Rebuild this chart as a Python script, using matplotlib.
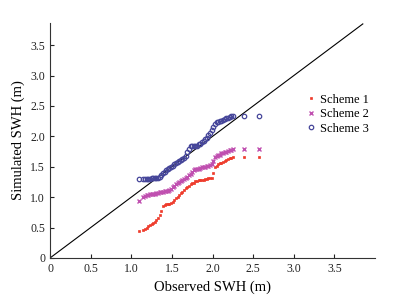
import matplotlib
matplotlib.use("Agg")
import matplotlib.pyplot as plt

plt.rcParams['font.family'] = ['Liberation Serif', 'DejaVu Serif']

obs = [1.10, 1.15, 1.17, 1.19, 1.21, 1.23, 1.25, 1.27, 1.29, 1.31, 1.33, 1.35, 1.37, 1.39,
       1.41, 1.43, 1.45, 1.47, 1.49, 1.51, 1.53, 1.55, 1.57, 1.59, 1.61, 1.63, 1.65, 1.67,
       1.69, 1.71, 1.73, 1.75, 1.77, 1.79, 1.81, 1.83, 1.85, 1.87, 1.89, 1.91, 1.93, 1.95,
       1.97, 1.99, 2.01, 2.03, 2.05, 2.07, 2.09, 2.11, 2.13, 2.15, 2.17, 2.19, 2.21, 2.23,
       2.25, 2.39, 2.57]

scheme1 = [0.45, 0.46, 0.48, 0.50, 0.52, 0.54, 0.56, 0.58, 0.60, 0.63, 0.66, 0.70, 0.78, 0.86,
           0.87, 0.88, 0.88, 0.89, 0.90, 0.92, 0.95, 0.98, 1.01, 1.04, 1.07, 1.09, 1.12, 1.15,
           1.17, 1.19, 1.21, 1.23, 1.24, 1.26, 1.27, 1.28, 1.28, 1.29, 1.29, 1.30, 1.30, 1.31,
           1.31, 1.32, 1.40, 1.49, 1.52, 1.54, 1.56, 1.57, 1.58, 1.60, 1.61, 1.63, 1.64, 1.65,
           1.66, 1.66, 1.66]

scheme2 = [0.94, 1.00, 1.02, 1.03, 1.04, 1.05, 1.05, 1.06, 1.06, 1.07, 1.07, 1.08, 1.08, 1.09,
           1.10, 1.10, 1.11, 1.12, 1.14, 1.16, 1.19, 1.21, 1.23, 1.25, 1.27, 1.28, 1.30, 1.32,
           1.34, 1.36, 1.38, 1.41, 1.44, 1.46, 1.46, 1.47, 1.48, 1.49, 1.49, 1.50, 1.51, 1.52,
           1.53, 1.54, 1.60, 1.66, 1.68, 1.69, 1.70, 1.72, 1.73, 1.74, 1.75, 1.76, 1.77, 1.78,
           1.79, 1.79, 1.79]

scheme3 = [1.30, 1.30, 1.30, 1.30, 1.30, 1.30, 1.31, 1.31, 1.31, 1.32, 1.32, 1.33, 1.37, 1.39,
           1.41, 1.44, 1.46, 1.48, 1.50, 1.52, 1.54, 1.56, 1.58, 1.60, 1.61, 1.63, 1.65, 1.67,
           1.74, 1.80, 1.84, 1.84, 1.84, 1.84, 1.85, 1.87, 1.88, 1.90, 1.92, 1.95, 1.98, 2.02,
           2.06, 2.11, 2.16, 2.21, 2.23, 2.24, 2.25, 2.26, 2.27, 2.28, 2.30, 2.31, 2.32, 2.33,
           2.33, 2.33, 2.33]

series_labels = ['Scheme 1', 'Scheme 2', 'Scheme 3']
ref_line = [0, 3.85]
ticks = [0, 0.5, 1.0, 1.5, 2.0, 2.5, 3.0, 3.5]
tick_labels = ['0', '0.5', '1.0', '1.5', '2.0', '2.5', '3.0', '3.5']

fig = plt.figure(figsize=(3.99, 3.06), dpi=100)
ax = fig.add_axes([50/399, 48/306, 325/399, 235.3/306])

ax.plot(ref_line, ref_line, color='black', lw=0.8, zorder=1)
ax.plot(obs, scheme1, ls='none', marker='s', ms=2.0, mfc='#ee3a2a', mec='#ee3a2a',
        mew=0.5, label=series_labels[0], zorder=3)
ax.plot(obs, scheme2, ls='none', marker='x', ms=2.7, mec='#c050b0', mew=1.0,
        label=series_labels[1], zorder=3)
ax.plot(obs, scheme3, ls='none', marker='o', ms=3.2, mfc='none', mec='#46469a',
        mew=0.9, label=series_labels[2], zorder=3)

ax.set_xlim(0, 4.0)
ax.set_ylim(0, 3.87)
ax.set_xticks(ticks)
ax.set_xticklabels(tick_labels)
ax.set_yticks(ticks)
ax.set_yticklabels(tick_labels)
ax.tick_params(direction='in', length=3, width=0.8, labelsize=8.5, colors='#222222')
for s in ['top', 'right']:
    ax.spines[s].set_visible(False)
for s in ['left', 'bottom']:
    ax.spines[s].set_linewidth(0.8)
    ax.spines[s].set_color('#333333')

ax.set_xlabel('Observed SWH (m)', fontsize=10.5, labelpad=4)
ax.set_ylabel('Simulated SWH (m)', fontsize=10.5, labelpad=4)

leg = ax.legend(loc='upper left', bbox_to_anchor=(0.79, 0.698), frameon=False,
                fontsize=9, handlelength=0.6, handletextpad=0.5, labelspacing=0.2,
                borderaxespad=0, borderpad=0)

fig.savefig('out.png', dpi=100)
